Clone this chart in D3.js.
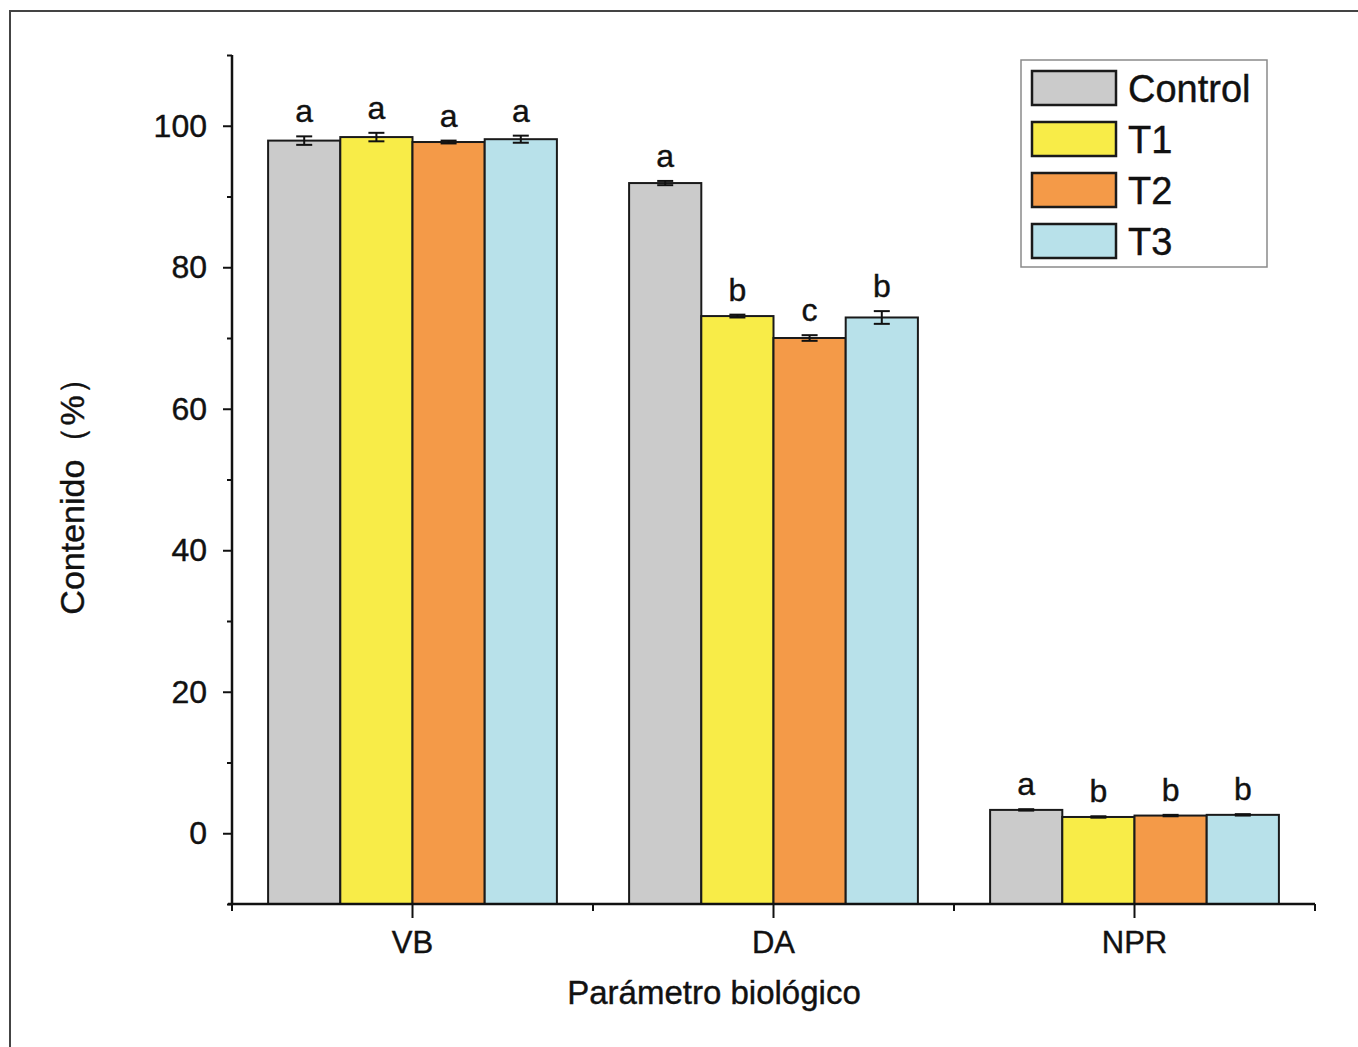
<!DOCTYPE html>
<html><head><meta charset="utf-8">
<script src="https://cdnjs.cloudflare.com/ajax/libs/d3/7.8.5/d3.min.js"></script>
<style>
html,body{margin:0;padding:0;background:#fff;}
text{font-family:"Liberation Sans",Arial,sans-serif;fill:#111;stroke:#111;stroke-width:0.4px;}
</style>
</head><body>
<svg id="chart" width="1358" height="1047"></svg>
<script>
const categories = ["VB", "DA", "NPR"];
const series = ["Control", "T1", "T2", "T3"];
const colors = ["#cbcbcb", "#f8ec48", "#f49a48", "#b8e1ea"];
const controlVals = [97.9, 91.9, 3.3];
const t1Vals = [98.4, 73.1, 2.3];
const t2Vals = [97.7, 70.0, 2.5];
const t3Vals = [98.1, 72.9, 2.6];
const controlErr = [0.6, 0.3, 0.1];
const t1Err = [0.6, 0.2, 0.1];
const t2Err = [0.2, 0.4, 0.1];
const t3Err = [0.5, 0.9, 0.1];
const controlSig = ["a", "a", "a"];
const t1Sig = ["a", "b", "b"];
const t2Sig = ["a", "c", "b"];
const t3Sig = ["a", "b", "b"];
const yMajorTicks = [0, 20, 40, 60, 80, 100];
const yMinorTicks = [-10, 10, 30, 50, 70, 90, 110];
const yDomain = [-10, 110];
const xTitle = "Parámetro biológico";
const yTitle = "Contenido（%）";

const values = [controlVals, t1Vals, t2Vals, t3Vals];
const errs = [controlErr, t1Err, t2Err, t3Err];
const sigs = [controlSig, t1Sig, t2Sig, t3Sig];

(function () {
const svg = d3.select("#chart");

// frame
svg.append("path").attr("d", "M10,1047 V11 H1358").attr("fill", "none")
  .attr("stroke", "#444").attr("stroke-width", 2);

const pLeft = 232, pRight = 1315, pTop = 55, pBottom = 904;
const x = d3.scaleBand().domain(categories).range([pLeft, pRight]).paddingInner(0).paddingOuter(0);
const bw = x.bandwidth();
const xi = d3.scaleBand().domain(series).range([bw * 0.1, bw * 0.9]);
const y = d3.scaleLinear().domain(yDomain).range([pBottom, pTop]);

const data = [];
categories.forEach((c, ci) => {
  series.forEach((s, si) => {
    data.push({c, s, si, v: values[si][ci], e: errs[si][ci], sig: sigs[si][ci]});
  });
});

// bars
svg.append("g").selectAll("rect").data(data).join("rect")
  .attr("x", d => x(d.c) + xi(d.s))
  .attr("y", d => y(d.v))
  .attr("width", xi.bandwidth())
  .attr("height", d => y(yDomain[0]) - y(d.v))
  .attr("fill", d => colors[d.si])
  .attr("stroke", "#1a1a1a").attr("stroke-width", 2);

// error bars
const eb = svg.append("g").attr("stroke", "#111").attr("stroke-width", 2).attr("fill", "none");
data.forEach(d => {
  const cx = x(d.c) + xi(d.s) + xi.bandwidth() / 2;
  const y1 = y(d.v + d.e), y2 = y(d.v - d.e);
  eb.append("line").attr("x1", cx).attr("x2", cx).attr("y1", y1).attr("y2", y2);
  eb.append("line").attr("x1", cx - 8).attr("x2", cx + 8).attr("y1", y1).attr("y2", y1);
  eb.append("line").attr("x1", cx - 8).attr("x2", cx + 8).attr("y1", y2).attr("y2", y2);
});

// significance letters
svg.append("g").selectAll("text").data(data).join("text")
  .attr("x", d => x(d.c) + xi(d.s) + xi.bandwidth() / 2)
  .attr("y", d => y(d.v + d.e) - 14)
  .attr("text-anchor", "middle")
  .style("font-size", "32px")
  .text(d => d.sig);

// y axis
const yAxis = svg.append("g").attr("transform", `translate(${pLeft},0)`)
  .call(d3.axisLeft(y).tickValues(yMajorTicks).tickSize(9).tickPadding(16).tickFormat(d3.format("d")));
yAxis.select(".domain").remove();
yAxis.selectAll(".tick line").attr("stroke", "#111").attr("stroke-width", 2);
yAxis.selectAll(".tick text").style("font-size", "32px").style("font-family", "Liberation Sans, Arial, sans-serif").attr("fill", "#111");
const yMinor = svg.append("g").attr("transform", `translate(${pLeft},0)`)
  .call(d3.axisLeft(y).tickValues(yMinorTicks).tickSize(5).tickFormat(""));
yMinor.select(".domain").remove();
yMinor.selectAll(".tick line").attr("stroke", "#111").attr("stroke-width", 2);
svg.append("line").attr("x1", pLeft).attr("x2", pLeft).attr("y1", pTop).attr("y2", pBottom)
  .attr("stroke", "#111").attr("stroke-width", 2.5);

// x axis
const xAxis = svg.append("g").attr("transform", `translate(0,${pBottom})`)
  .call(d3.axisBottom(x).tickSize(14).tickPadding(13));
xAxis.select(".domain").remove();
xAxis.selectAll(".tick line").attr("stroke", "#111").attr("stroke-width", 2);
xAxis.selectAll(".tick text").style("font-size", "31px").style("font-family", "Liberation Sans, Arial, sans-serif").attr("fill", "#111");
const bounds = categories.map(c => x(c)).concat([pRight]);
svg.append("g").selectAll("line").data(bounds).join("line")
  .attr("x1", d => d).attr("x2", d => d).attr("y1", pBottom).attr("y2", pBottom + 7)
  .attr("stroke", "#111").attr("stroke-width", 2);
svg.append("line").attr("x1", pLeft - 4).attr("x2", pRight).attr("y1", pBottom).attr("y2", pBottom)
  .attr("stroke", "#111").attr("stroke-width", 2.5);

// axis titles
svg.append("text").attr("x", 714).attr("y", 1004).attr("text-anchor", "middle")
  .style("font-size", "33px").text(xTitle);
svg.append("text").attr("transform", "translate(84,488) rotate(-90)").attr("text-anchor", "middle")
  .style("font-size", "34px").text(yTitle);

// legend
const lg = svg.append("g");
lg.append("rect").attr("x", 1021).attr("y", 60).attr("width", 246).attr("height", 207)
  .attr("fill", "#fff").attr("stroke", "#8a8a8a").attr("stroke-width", 1.5);
series.forEach((s, i) => {
  const yy = 71 + i * 51;
  lg.append("rect").attr("x", 1032).attr("y", yy).attr("width", 84).attr("height", 34)
    .attr("fill", colors[i]).attr("stroke", "#1a1a1a").attr("stroke-width", 2.5);
  lg.append("text").attr("x", 1128).attr("y", yy + 31).style("font-size", "38px").text(s);
});
})();
</script>
</body></html>
